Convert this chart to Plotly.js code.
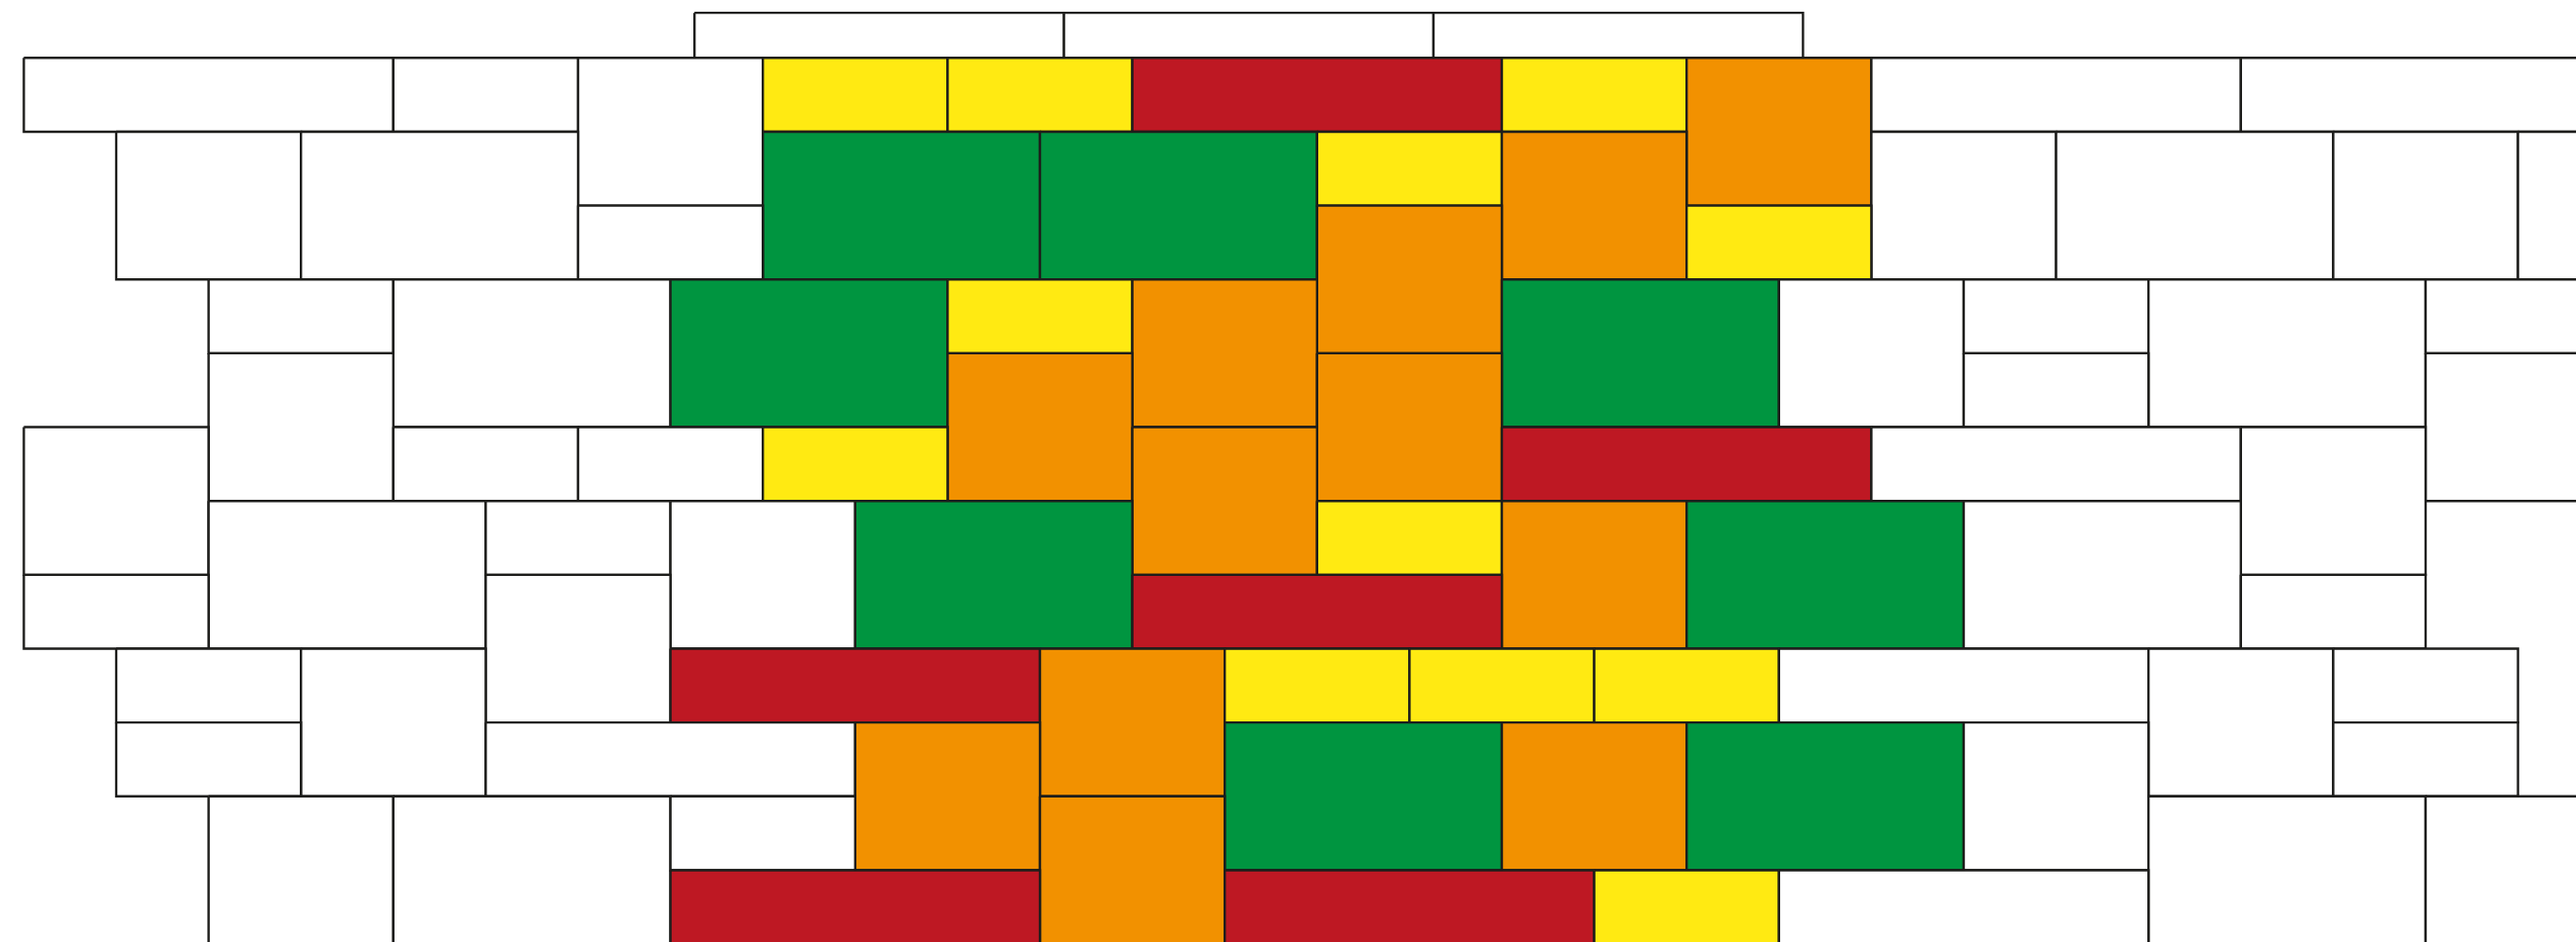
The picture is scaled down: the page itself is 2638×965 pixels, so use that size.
<!DOCTYPE html>
<html>
<head>
<meta charset="utf-8">
<script src="https://cdn.plot.ly/plotly-3.0.1.min.js"></script>
<style>html,body{margin:0;padding:0;background:#fff;overflow:hidden}#chart{width:2638px;height:965px}</style>
</head>
<body>
<div id="chart"></div>
<script>
// Brick grid: left/right edges in column units, top/bottom edges in row units
const brickLeft   = [7.26,11.26,15.26, 0,4,6,8,10,12,16,18,20,24, 1,3,8,11,14,16,20,22,25,27, 6,14,18, 2,4,7,10,12,16,19,21,23,26, 2,10,14,21,26, 0,4,6,8,12,16,20,24, 2,5,7,9,14,16,18,21, 0,5,12,24, 1,3,7,11,13,15,17,19,23,25, 1,5,9,13,16,18,21,25, 2,4,7,11,23,26, 7,13,17,19];
const brickRight  = [11.26,15.26,19.26, 4,6,8,10,12,16,18,20,24,28, 3,6,11,14,16,18,22,25,27,29, 8,16,20, 4,7,10,12,14,19,21,23,26,28, 4,12,16,23,28, 2,6,8,10,14,20,24,26, 5,7,9,12,16,18,21,24, 2,7,16,26, 3,5,11,13,15,17,19,23,25,27, 3,9,11,16,18,21,23,27, 4,7,9,13,26,28, 11,17,19,23];
const brickTop    = [-0.61,-0.61,-0.61, 0,0,0,0,0,0,0,0,0,0, 1,1,1,1,1,1,1,1,1,1, 2,2,2, 3,3,3,3,3,3,3,3,3,3, 4,4,4,4,4, 5,5,5,5,5,5,5,5, 6,6,6,6,6,6,6,6, 7,7,7,7, 8,8,8,8,8,8,8,8,8,8, 9,9,9,9,9,9,9,9, 10,10,10,10,10,10, 11,11,11,11];
const brickBottom = [0,0,0, 1,1,2,1,1,1,1,2,1,1, 3,3,3,3,2,3,3,3,3,3, 3,4,3, 4,5,5,4,5,5,5,4,5,4, 6,6,6,5,6, 7,6,6,6,7,6,6,7, 8,7,8,8,7,8,8,8, 8,9,8,8, 9,10,9,10,9,9,9,9,10,9, 10,10,11,11,11,11,11,10, 12,12,11,12,12,12, 12,12,12,12];
const brickColor  = ['W','W','W', 'W','W','W','Y','Y','R','Y','O','W','W', 'W','W','G','G','Y','O','W','W','W','W', 'W','O','Y', 'W','W','G','Y','O','G','W','W','W','W', 'W','O','O','W','W', 'W','W','W','Y','O','R','W','W', 'W','W','W','G','Y','O','G','W', 'W','W','R','W', 'W','W','R','O','Y','Y','Y','W','W','W', 'W','W','O','G','O','G','W','W', 'W','W','W','O','W','W', 'R','R','Y','W'];
const palette = {W:'#ffffff', Y:'#ffea12', R:'#be1823', G:'#009540', O:'#f29100'};

const traces = brickLeft.map((x0, i) => {
  const x1 = brickRight[i], y0 = brickTop[i], y1 = brickBottom[i];
  return {
    type: 'scatter', mode: 'lines',
    x: [x0, x1, x1, x0, x0],
    y: [y0, y0, y1, y1, y0],
    fill: 'toself',
    fillcolor: palette[brickColor[i]],
    line: {color: '#1d1d1b', width: 2.4},
    hoverinfo: 'skip', showlegend: false
  };
});

const layout = {
  width: 2638, height: 965,
  margin: {l: 0, r: 0, t: 0, b: 0},
  paper_bgcolor: '#ffffff', plot_bgcolor: '#ffffff',
  showlegend: false,
  xaxis: {visible: false, range: [-0.258, 27.628], fixedrange: true},
  yaxis: {visible: false, range: [11.972, -0.784], fixedrange: true}
};
Plotly.newPlot('chart', traces, layout, {displayModeBar: false, staticPlot: true});
</script>
</body>
</html>
